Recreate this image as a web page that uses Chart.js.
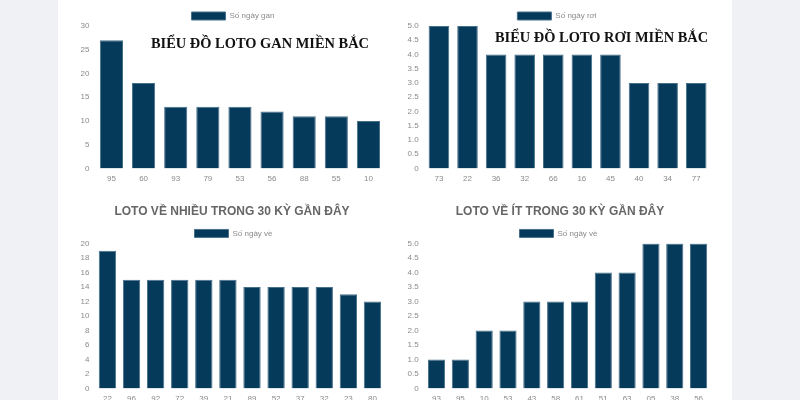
<!DOCTYPE html>
<html>
<head>
<meta charset="utf-8">
<script src="https://cdn.jsdelivr.net/npm/chart.js@4/dist/chart.umd.min.js"></script>
<style>
  html, body { margin: 0; padding: 0; }
  body { width: 800px; height: 400px; background: #f0f1f5; position: relative; overflow: hidden; }
  .panel { position: absolute; left: 58px; top: 0; width: 674px; height: 400px; background: #fff; }
  .box { position: absolute; }
  .overlay { position: absolute; font-family: "Liberation Serif", serif; font-weight: bold; font-size: 15.5px; color: #111;
             white-space: nowrap; transform: scaleX(0.93); transform-origin: left top; }
</style>
</head>
<body>
<div class="panel"></div>
<div class="box" style="left:70px;top:0px;width:326px;height:190px"><canvas id="ganChart"></canvas></div>
<div class="box" style="left:398px;top:0px;width:318px;height:190px"><canvas id="roiChart"></canvas></div>
<div class="box" style="left:70px;top:198px;width:326px;height:212px"><canvas id="nhieuChart"></canvas></div>
<div class="box" style="left:398px;top:198px;width:318px;height:212px"><canvas id="itChart"></canvas></div>
<div class="overlay" style="left:151px;top:34px">BIỂU ĐỒ LOTO GAN MIỀN BẮC</div>
<div class="overlay" style="left:495px;top:28px">BIỂU ĐỒ LOTO RƠI MIỀN BẮC</div>
<script>
// loto gan
const ganLabels = ['95', '60', '93', '79', '53', '56', '88', '55', '10'];
const ganValues = [27, 18, 13, 13, 13, 12, 11, 11, 10];
// loto roi
const roiLabels = ['73', '22', '36', '32', '66', '16', '45', '40', '34', '77'];
const roiValues = [5, 5, 4, 4, 4, 4, 4, 3, 3, 3];
// ve nhieu
const nhieuLabels = ['22', '96', '92', '72', '39', '21', '89', '52', '37', '32', '23', '80'];
const nhieuValues = [19, 15, 15, 15, 15, 15, 14, 14, 14, 14, 13, 12];
// ve it
const itLabels = ['93', '95', '10', '53', '43', '58', '61', '51', '63', '05', '38', '56'];
const itValues = [1, 1, 2, 2, 3, 3, 3, 4, 4, 5, 5, 5];

const barColor = '#063a5b';
const tickColor = '#8a8a8a';
Chart.defaults.font.family = '"Liberation Sans", Arial, sans-serif';

// nudge a box sideways when it is drawn
let shiftDraw = (box, dx) => {
  if (!box || !dx) return;
  const origDraw = box.draw;
  box.draw = function () {
    this.ctx.save();
    this.ctx.translate(dx, 0);
    origDraw.apply(this, arguments);
    this.ctx.restore();
  };
}

let makeChart = (id, labels, values, seriesName, yMax, yStep, title, pad, legendDx, titleDx) => {
  let ctx = document.getElementById(id);
  // legend sits closer to the bars than the default gap
  const legendGap = {
    id: 'legendGap',
    beforeInit(chart) {
      const origFit = chart.legend.fit;
      chart.legend.fit = function fit() {
        origFit.bind(chart.legend)();
        this.height -= 4;
      };
      shiftDraw(chart.legend, legendDx);
      shiftDraw(chart.titleBlock, titleDx);
    }
  };
  return new Chart(ctx, {
    type: 'bar',
    data: {
      labels: labels,
      datasets: [{
        label: seriesName,
        data: values,
        backgroundColor: barColor,
        borderColor: '#46708a',
        borderWidth: 1,
      }],
    },
    plugins: [legendGap],
    options: {
      responsive: true,
      maintainAspectRatio: false,
      animation: false,
      layout: { padding: pad },
      plugins: {
        title: {
          display: !!title,
          text: title || '',
          color: '#666',
          font: { size: 12, weight: 'bold' },
          padding: { top: 4, bottom: 10 },
        },
        legend: {
          display: true,
          labels: {
            boxWidth: 34,
            boxHeight: 8,
            color: tickColor,
            font: { size: 8 },
            padding: 1,
          }
        },
        tooltip: { enabled: false },
      },
      scales: {
        x: {
          grid: { display: false, drawTicks: false },
          border: { display: false },
          ticks: { color: tickColor, font: { size: 8 }, padding: 6 },
        },
        y: {
          min: 0,
          max: yMax,
          grid: { display: false, drawTicks: false },
          border: { display: false },
          ticks: { stepSize: yStep, color: tickColor, font: { size: 8 }, padding: 6 },
        }
      }
    }
  });
}

makeChart('ganChart', ganLabels, ganValues, 'Số ngày gan', 30, 5, null, { top: 11, left: 4.5, right: 11.5 }, 3.5, 0);
makeChart('roiChart', roiLabels, roiValues, 'Số ngày rơi', 5, 0.5, null, { top: 11, left: 3.5, right: 5.5 }, 1, 0);
makeChart('nhieuChart', nhieuLabels, nhieuValues, 'Số ngày về', 20, 2, 'LOTO VỀ NHIỀU TRONG 30 KỲ GẦN ĐÂY', { top: 2, left: 4.5, right: 11.5 }, 4, 2.5);
makeChart('itChart', itLabels, itValues, 'Số ngày về', 5, 0.5, 'LOTO VỀ ÍT TRONG 30 KỲ GẦN ĐÂY', { top: 2, left: 3.5, right: 5.5 }, 2.5, 4);
</script>
</body>
</html>
